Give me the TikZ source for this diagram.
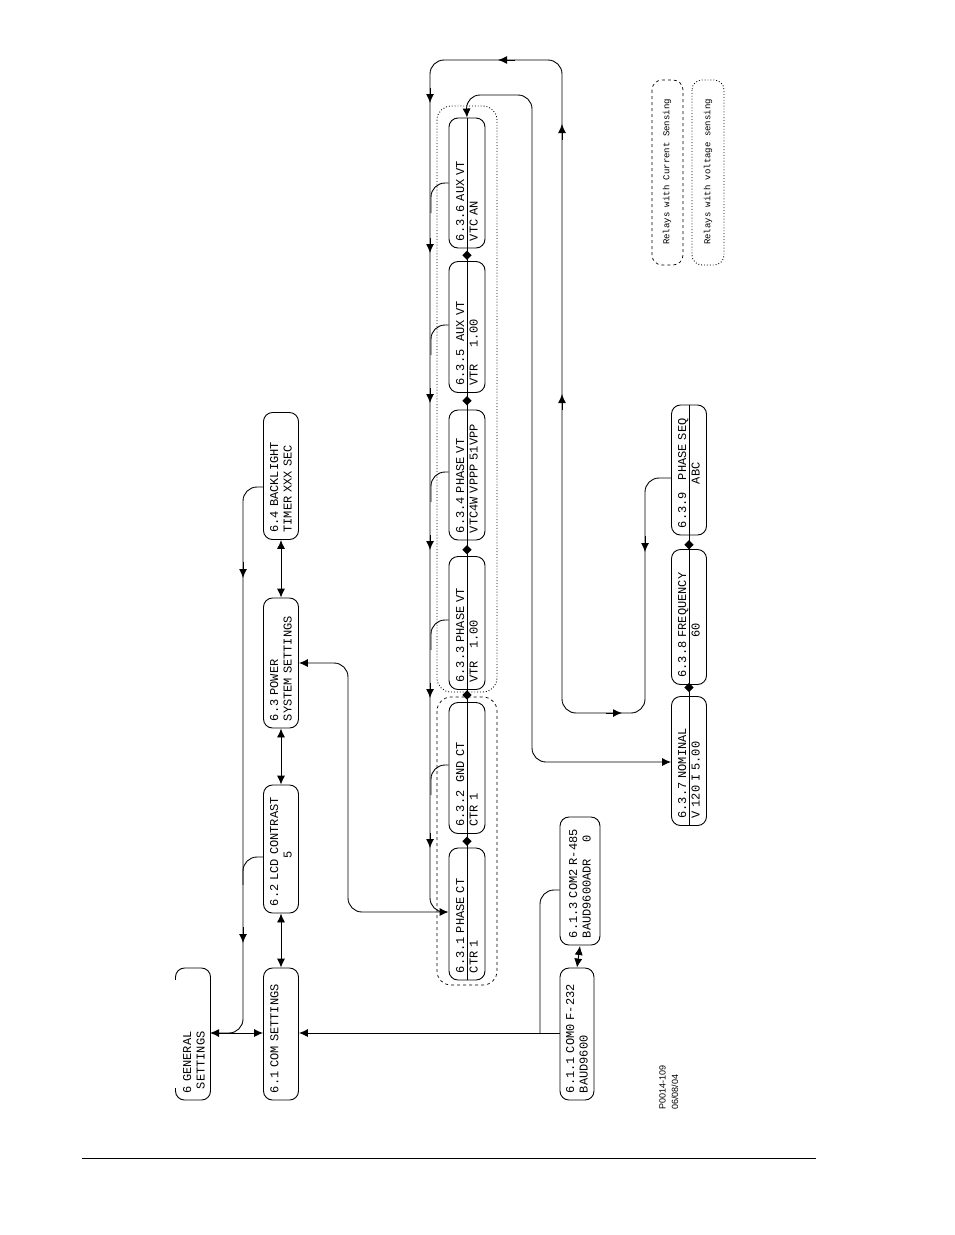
\documentclass[tikz,border=0pt]{standalone}
\usepackage{fontspec}
\setmainfont{Liberation Sans}
\newfontfamily\lcd{Liberation Mono}
\usetikzlibrary{arrows.meta,shapes.geometric}
\begin{document}
\begin{tikzpicture}[x=1pt,y=-1pt,line width=0.9pt,
  bx/.style={draw,rounded corners=9pt,rotate=90,inner sep=0pt,align=left,font=\lcd\fontsize{12}{13.5}\selectfont},
  tx/.style={rotate=90,inner sep=0pt,align=left,font=\lcd\fontsize{12}{13.5}\selectfont},
  dia/.style={diamond,fill,inner sep=2.4pt},
  arr/.style={-{Latex[length=9pt,width=8pt]}},
  darr/.style={{Latex[length=9pt,width=8pt]}-{Latex[length=9pt,width=8pt]}},
  rc/.style={rounded corners=14pt}]
\useasboundingbox (0,0) rectangle (954,1235);
\newcommand{\bxx}[6]{\node[bx,minimum width=#4,minimum height=#5,text width=#4-14] (#1) at (#2,#3) {#6};}
% main column
\bxx{g}{193}{1034}{132}{35}{}
\fill[white] (170,980) rectangle (185,1088);
\node[tx,text width=118] (gt) at (194,1034) {6 GENERAL\\\ SETTINGS};
\bxx{c61}{281}{1034}{132}{35}{6.1 COM SETTINGS\\\ }
\bxx{c62}{281}{849}{128}{35}{6.2 LCD CONTRAST\\\ \ \ \ \ \ \ \ \ \ \ \ 5}
\bxx{c63}{281}{663}{130}{35}{6.3 POWER\\SYSTEM SETTINGS}
\bxx{c64}{281}{476}{127}{35}{6.4 BACKLIGHT\\TIMER XXX SEC}
\bxx{c611}{577}{1034}{132}{34}{6.1.1 COM0 F-232\\BAUD9600}
\bxx{c613}{580}{881}{128}{40}{6.1.3 COM2 R-485\\BAUD9600ADR\ \ \ \ 0}
\bxx{p1}{467}{914}{132}{36}{6.3.1 PHASE CT\\CTR 1}
\bxx{p2}{467}{768}{131}{36}{6.3.2\ \ GND CT\\CTR 1}
\bxx{p3}{467}{623}{133}{36}{6.3.3 PHASE VT\\VTR\ \ \ 1.00}
\bxx{p4}{467}{475}{130}{36}{6.3.4 PHASE VT\\VTC4W VPPP 51VPP}
\bxx{p5}{467}{327}{131}{36}{6.3.5\ \ AUX VT\\VTR\ \ \ \ 1.00}
\bxx{p6}{467}{183}{130}{36}{6.3.6 AUX VT\\VTC AN}
\bxx{p7}{689}{761}{129}{35}{6.3.7 NOMINAL\\V 120 I 5.00}
\bxx{p8}{689}{617}{135}{35}{6.3.8 FREQUENCY\\\ \ \ \ \ \ \ \ \ \ 60}
\bxx{p9}{689}{470}{130}{35}{6.3.9\ \ \ PHASE SEQ\\\ \ \ \ \ \ \ \ \ \ \ ABC}
% regions
\draw[dashed,line width=0.7pt,rounded corners=14pt] (437,697) rectangle (497,985);
\draw[dotted,line width=0.9pt,rounded corners=14pt] (437,106) rectangle (497,692);
% legend
\draw[dashed,line width=0.7pt,rounded corners=10pt] (652,80) rectangle (683,265);
\node[rotate=90,font=\lcd\fontsize{9}{10}\selectfont] (l1) at (667,172) {Relays with Current Sensing};
\draw[dotted,line width=0.9pt,rounded corners=10pt] (692,80) rectangle (724,265);
\node[rotate=90,font=\lcd\fontsize{9}{10}\selectfont] (l2) at (708,172) {Relays with voltage sensing};
\node[rotate=90,anchor=north west,align=left,inner sep=0pt,font=\fontsize{9}{12.5}\selectfont] (ref) at (659,1110) {P0014-109\\06/08/04};
% vertical double arrows
\draw[darr] (c61.east) -- (c62.west);
\draw[darr] (c62.east) -- (c63.west);
\draw[darr] (c63.east) -- (c64.west);
\draw[darr] (c611.east) -- (c613.west|-0,946);
\draw[darr] (193+17,1033) -- (c61.north|-0,1033);
% left spine
\draw[rc] (c64.north|-0,487) -- (243,487) -- (243,1033) -- (212,1033);
\draw[rc] (c62.north|-0,857) -- (243,857) -- (243,885);
\draw[arr] (243,562) -- (243,578);
\draw[arr] (243,927) -- (243,943);
% com
\draw[arr] (c611.north|-0,1033) -- (c61.south|-0,1033);
\draw[rc] (c613.north|-0,890) -- (540,890) -- (540,1033);
% power system to phase ct
\draw[darr,rc] (c63.south|-0,663) -- (348,663) -- (348,912) -- (p1.north|-0,912);
% inner spine and top loop
\draw[rc] (p9.north|-0,478) -- (645,478) -- (645,713) -- (562,713) -- (562,60) -- (430,60) -- (430,912) -- (445,912);
\foreach \yy in {100,250,400,547,695,845} \draw[arr] (430,\yy-12) -- (430,\yy+3);
\draw[arr] (562,410) -- (562,394);
\draw[arr] (562,140) -- (562,124);
\draw[arr] (515,60) -- (498,60);
\draw[arr] (606,713) -- (622,713);
\draw[arr] (645,536) -- (645,552);
\foreach \n/\yy in {p2/765,p3/620,p4/472,p5/325,p6/183} \draw[rc] (\n.north|-0,\yy) -- (431,\yy) -- (431,\yy+30);
% second loop
\draw[darr,rc] (p7.north|-0,762) -- (532,762) -- (532,95) -- (466,95) -- (p6.east);
% diamonds
\draw (p1.west) -- (p2.east) node[dia,midway] {};
\draw (p2.west) -- (p3.east) node[dia,midway] {};
\draw (p3.west) -- (p4.east) node[dia,midway] {};
\draw (p4.west) -- (p5.east) node[dia,midway] {};
\draw (p5.west) -- (p6.east) node[dia,midway] {};
\draw (p7.west) -- (p8.east) node[dia,midway] {};
\draw (p8.west) -- (p9.east) node[dia,midway] {};
% bottom rule
\draw[line width=0.6pt] (82,1158) -- (816,1158);
\end{tikzpicture}
\end{document}
